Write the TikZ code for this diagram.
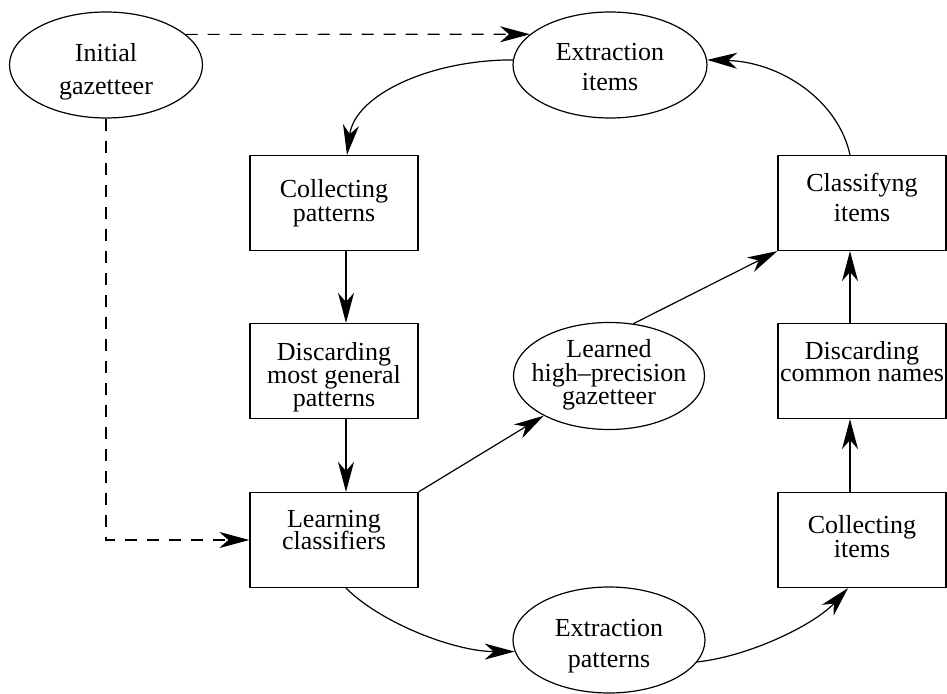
\documentclass[tikz,border=0pt]{standalone}
\usepackage{fontspec}
\setmainfont{Liberation Serif}
\usetikzlibrary{shapes.geometric,arrows.meta}
% #1 baselineskip, #2 shift (first baseline minus centre, in px), #3 rows separated by \cr
\newcommand\ntext[3]{\makebox[0pt]{\raisebox{0pt}[\dimexpr 10pt+#2pt/2\relax][\dimexpr 10pt-#2pt/2\relax]{\vtop{\baselineskip=#1\lineskiplimit=-100pt\lineskip=0pt\halign{\hfil##\hfil\cr #3\crcr}}}}}
\tikzset{
  boxnode/.style={rectangle,draw,line width=0.6pt,minimum width=84pt,minimum height=47.5pt,inner sep=0pt,font=\fontsize{13}{15}\selectfont},
  ellnode/.style={ellipse,draw,line width=0.6pt,minimum width=97pt,minimum height=53pt,inner sep=0pt,font=\fontsize{13}{15}\selectfont},
  arr/.style={line width=0.6pt,-{Stealth[length=15pt,width=8pt,inset=4.5pt]}},
  dasharr/.style={arr,dash pattern=on 6pt off 5pt}
}
\begin{document}
\begin{tikzpicture}[x=0.5pt,y=-0.5pt]
\useasboundingbox (0,0) rectangle (947,694);
% nodes
\node[ellnode,minimum width=96.5pt] (init) at (106,65) {\ntext{16.5pt}{-3}{Initial\cr gazetteer}};
\node[ellnode] (exi) at (610,65) {\ntext{15pt}{-4}{Extraction\cr items}};
\node[boxnode] (cp) at (334,203) {\ntext{12pt}{-5}{Collecting\cr patterns}};
\node[boxnode] (dmg) at (334,371) {\ntext{11.5pt}{-10}{Discarding\cr most general\cr patterns}};
\node[boxnode] (lc) at (334,540) {\ntext{11pt}{-12}{Learning\cr classifiers}};
\node[ellnode,minimum width=95.5pt,minimum height=53.5pt] (lhg) at (609,376) {\ntext{11.75pt}{-18}{Learned\cr high\textendash precision\cr gazetteer}};
\node[ellnode,minimum width=96pt] (ep) at (609,640) {\ntext{15.5pt}{-4}{Extraction\cr patterns}};
\node[boxnode] (ci) at (862,203) {\ntext{15pt}{-11.5}{Classifyng\cr items}};
\node[boxnode] (dcn) at (862,371) {\ntext{11pt}{-11}{Discarding\cr common names}};
\node[boxnode] (colli) at (862,540) {\ntext{12.5pt}{-7}{Collecting\cr items}};
% dashed connectors
\draw[dasharr] (init.21) -- (exi.159);
\draw[dasharr] (init.south) -- (init.south |- lc.west) -- (lc.west);
% left column
\draw[arr] (exi.177) .. controls +(-83,0) and +(8,-60) .. ([xshift=6.5pt]cp.north);
\draw[arr] ([xshift=6pt]cp.south) -- ([xshift=6pt]dmg.north);
\draw[arr] ([xshift=6pt]dmg.south) -- ([xshift=6pt]lc.north);
% middle
\draw[arr] (lc.north east) -- (lhg);
\draw[arr] (lhg.65) -- (ci.south west);
\draw[arr] ([xshift=6pt]lc.south) .. controls +(35,35) and +(-60,0) .. (ep.187);
\draw[arr] (ep.-14) .. controls +(54,-6) and +(-33,36) .. ([xshift=-7pt]colli.south);
% right column
\draw[arr] ([xshift=-6pt]colli.north) -- ([xshift=-6pt]dcn.south);
\draw[arr] ([xshift=-6pt]dcn.north) -- ([xshift=-6pt]ci.south);
\draw[arr] ([xshift=-6pt]ci.north) .. controls +(-12,-55) and +(73,2) .. (exi.3);
\end{tikzpicture}
\end{document}
